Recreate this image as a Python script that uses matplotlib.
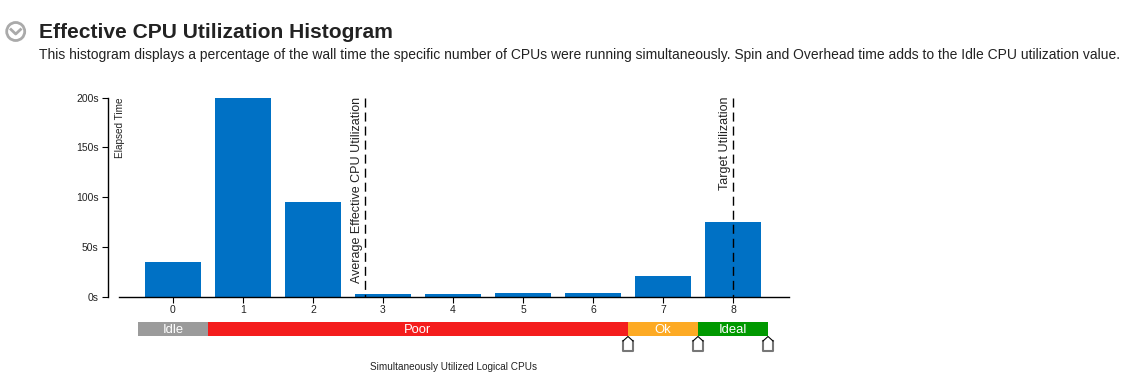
import matplotlib
matplotlib.use('Agg')
import matplotlib.pyplot as plt
from matplotlib.patches import Circle, Rectangle

plt.rcParams['font.family'] = ['Liberation Sans', 'DejaVu Sans']

cpus = [0, 1, 2, 3, 4, 5, 6, 7, 8]
elapsed = [35, 200, 95, 3, 3, 4, 4, 21, 75]
y_ticks = [0, 50, 100, 150, 200]
y_labels = ['0s', '50s', '100s', '150s', '200s']

average_util = 2.745
target_util = 8

band_names = ['Idle', 'Poor', 'Ok', 'Ideal']
band_edges = [-0.5, 0.5, 6.5, 7.5, 8.5]
band_colors = ['#9b9b9b', '#f41d1d', '#fdaa24', '#009900']

W, H = 1135, 390
BLUE = '#0071c5'
TEXT = '#222222'

fig = plt.figure(figsize=(W / 100, H / 100), dpi=100)

# pagina inteira em pixels, para o cabecalho
fundo = fig.add_axes([0, 0, 1, 1])
fundo.set_xlim(0, W)
fundo.set_ylim(H, 0)
fundo.axis('off')

fundo.add_patch(Circle((15.7, 31.5), 9, facecolor='white', edgecolor='#aaaaaa', lw=2))
fundo.plot([11, 15.7, 20.5], [29.5, 34, 29.5], color='#aaaaaa', lw=2)
fundo.text(39, 33, 'Effective CPU Utilization Histogram', fontsize=15.1,
           fontweight='bold', color=TEXT, va='center')
fundo.text(39, 55.5, 'This histogram displays a percentage of the wall time the specific '
           'number of CPUs were running simultaneously. Spin and Overhead time adds to '
           'the Idle CPU utilization value.', fontsize=10.04, color=TEXT, va='center')

# area do grafico: x de 119 a 789, y de 97.5 a 297
ax = fig.add_axes([119 / W, 1 - 297 / H, 670 / W, 199.5 / H])
ax.patch.set_alpha(0)
ax.bar(cpus, elapsed, width=0.8, color=BLUE)
ax.set_xlim((119 - 173) / 70, (789 - 173) / 70)
ax.set_ylim(0, 200)

for lado in ['top', 'right']:
    ax.spines[lado].set_visible(False)
ax.spines['left'].set_position(('outward', 7.9))
ax.spines['left'].set_linewidth(1.0)
ax.spines['bottom'].set_linewidth(1.0)

ax.set_xticks(cpus)
ax.set_xticklabels([str(c) for c in cpus])
ax.set_yticks(y_ticks)
ax.set_yticklabels(y_labels)
ax.tick_params(axis='x', length=4, width=0.8, labelsize=7.5, pad=1.5, labelcolor=TEXT)
ax.tick_params(axis='y', length=4.5, width=0.8, labelsize=7.5, pad=2.2, labelcolor=TEXT)

ax.text(-0.755, 200.5, 'Elapsed Time', rotation=90, fontsize=7.2, color=TEXT,
        ha='center', va='top')

# linhas de referencia
for valor in [average_util, target_util]:
    ax.plot([valor, valor], [200, 0], color='black', lw=1.0, dashes=(6.5, 3.6), zorder=3,
            clip_on=False)
ax.text(average_util - 0.115, 201, 'Average Effective CPU Utilization', rotation=90,
        fontsize=9, color=TEXT, ha='center', va='top')
ax.text(target_util - 0.115, 201, 'Target Utilization', rotation=90,
        fontsize=9, color=TEXT, ha='center', va='top')

# faixas de classificacao abaixo do eixo
trans = ax.get_xaxis_transform()
for i, nome in enumerate(band_names):
    ax.add_patch(Rectangle((band_edges[i], -25 / 199.5), band_edges[i + 1] - band_edges[i], -14 / 199.5,
                           transform=trans, facecolor=band_colors[i], edgecolor='none',
                           clip_on=False))
    ax.text((band_edges[i] + band_edges[i + 1]) / 2, -33.3 / 199.5, nome, transform=trans,
            color='white', fontsize=9.4, ha='center', va='center', clip_on=False)

# marcadores das divisas, em pixels no eixo de fundo
for borda in band_edges[2:]:
    px = ax.transData.transform((borda, 0))[0]
    fundo.plot([px - 5, px - 5, px + 5, px + 5], [341, 350.5, 350.5, 341], color='#777777',
               lw=1.5, solid_joinstyle='round')
    fundo.plot([px - 5, px, px + 5], [341, 336.5, 341], color='black', lw=0.8)

ax.set_xlabel('Simultaneously Utilized Logical CPUs', fontsize=7.2, color=TEXT)
ax.xaxis.set_label_coords((453 - 119) / 670, -69.5 / 199.5)
ax.xaxis.label.set_va('center')

plt.savefig('out.png', dpi=100)
